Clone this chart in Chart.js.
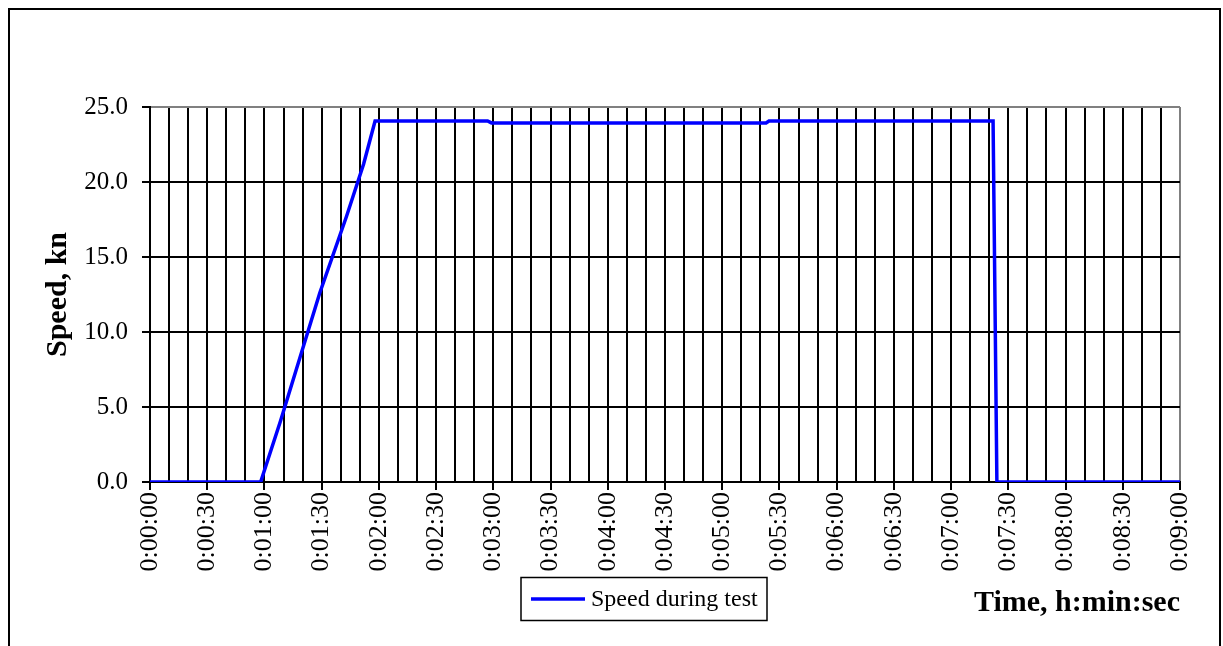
<!DOCTYPE html>
<html>
<head>
<meta charset="utf-8">
<script src="https://cdn.jsdelivr.net/npm/chart.js@4/dist/chart.umd.min.js"></script>
<style>
  body { margin: 0; background: #fff; }
  #wrap { width: 1223px; height: 646px; }
</style>
</head>
<body>
<div id="wrap"><canvas id="c" width="1223" height="646"></canvas></div>
<script>
// time in seconds from start of test
const timeSec = [0, 58, 68.5, 89, 103, 112, 118, 177, 179, 323, 324.5, 442, 444, 540]
// speed, kn
const speedKn = [0, 0, 4.1, 12.6, 17.7, 21.2, 24.07, 24.07, 23.94, 23.94, 24.07, 24.07, 0, 0]
const seriesLabel = 'Speed during test'
const yTicks = [0, 5, 10, 15, 20, 25]

const serif = "'Liberation Serif', 'Times New Roman', serif"

const fmtTime = (v) => {
  const m = Math.floor(v / 60)
  const s = Math.round(v % 60)
  return '0:' + String(m).padStart(2, '0') + ':' + String(s).padStart(2, '0')
}

const frame = {
  id: 'frame',
  beforeDraw (chart) {
    const ctx = chart.ctx
    ctx.save()
    ctx.fillStyle = '#fff'
    ctx.fillRect(0, 0, chart.width, chart.height)
    ctx.strokeStyle = '#000'
    ctx.lineWidth = 2
    ctx.strokeRect(9, 9, 1211, 700)
    ctx.restore()
  },
  afterDraw (chart) {
    // legend box
    const ctx = chart.ctx
    const ds = chart.data.datasets[0]
    ctx.save()
    ctx.strokeStyle = '#000'
    ctx.lineWidth = 1.5
    ctx.strokeRect(521, 577.5, 246, 43)
    ctx.strokeStyle = ds.borderColor
    ctx.lineWidth = 3.5
    ctx.beginPath()
    ctx.moveTo(531, 599)
    ctx.lineTo(585, 599)
    ctx.stroke()
    ctx.fillStyle = '#000'
    ctx.font = '24px ' + serif
    ctx.textBaseline = 'middle'
    ctx.fillText(ds.label, 591, 600)
    ctx.restore()
  }
}

const points = timeSec.map((t, i) => ({ x: t, y: speedKn[i] }))

new Chart(document.getElementById('c'), {
  type: 'line',
  data: {
    datasets: [{
      label: seriesLabel,
      data: points,
      borderColor: '#0000FF',
      borderWidth: 3.5,
      pointRadius: 0,
      tension: 0,
      fill: false
    }]
  },
  options: {
    responsive: false,
    animation: false,
    devicePixelRatio: 1,
    layout: { padding: { top: 107, right: 43, bottom: 0, left: 0 } },
    plugins: {
      legend: { display: false },
      tooltip: { enabled: false }
    },
    scales: {
      x: {
        type: 'linear',
        min: 0,
        max: 540,
        afterFit (s) {
          s.height = 164
          s.paddingLeft = 0
          s.paddingRight = 0
        },
        afterBuildTicks (s) {
          const t = []
          for (let v = 0; v <= 540; v += 10) t.push({ value: v })
          s.ticks = t
        },
        border: { color: '#000', width: 2 },
        grid: {
          color: (c) => c.tick && c.tick.value === 540 ? '#808080' : '#000',
          lineWidth: 2,
          tickLength: 8,
          tickColor: (c) => c.tick && c.tick.value % 30 === 0 ? '#000' : 'rgba(0,0,0,0)'
        },
        ticks: {
          autoSkip: false,
          maxRotation: 90,
          minRotation: 90,
          padding: 2,
          color: '#000',
          font: { family: serif, size: 26 },
          callback: (v) => v % 30 === 0 ? fmtTime(v) : ''
        },
        title: {
          display: true,
          text: 'Time, h:min:sec',
          align: 'end',
          color: '#000',
          font: { family: serif, size: 30, weight: 'bold' },
          padding: { top: 0, bottom: 25 }
        }
      },
      y: {
        min: 0,
        max: 25,
        afterFit (s) {
          s.width = 150
          s.paddingTop = 0
          s.paddingBottom = 0
        },
        afterBuildTicks (s) {
          s.ticks = yTicks.map((v) => ({ value: v }))
        },
        border: { color: '#000', width: 2 },
        grid: {
          color: (c) => c.tick && c.tick.value === 25 ? '#808080' : '#000',
          lineWidth: 2,
          tickLength: 8,
          tickColor: '#000'
        },
        ticks: {
          padding: 14,
          color: '#000',
          font: { family: serif, size: 25 },
          callback: (v) => v.toFixed(1)
        },
        title: {
          display: true,
          text: 'Speed, kn',
          color: '#000',
          font: { family: serif, size: 30, weight: 'bold' },
          padding: { top: 40, bottom: 0 }
        }
      }
    }
  },
  plugins: [frame]
})
</script>
</body>
</html>
